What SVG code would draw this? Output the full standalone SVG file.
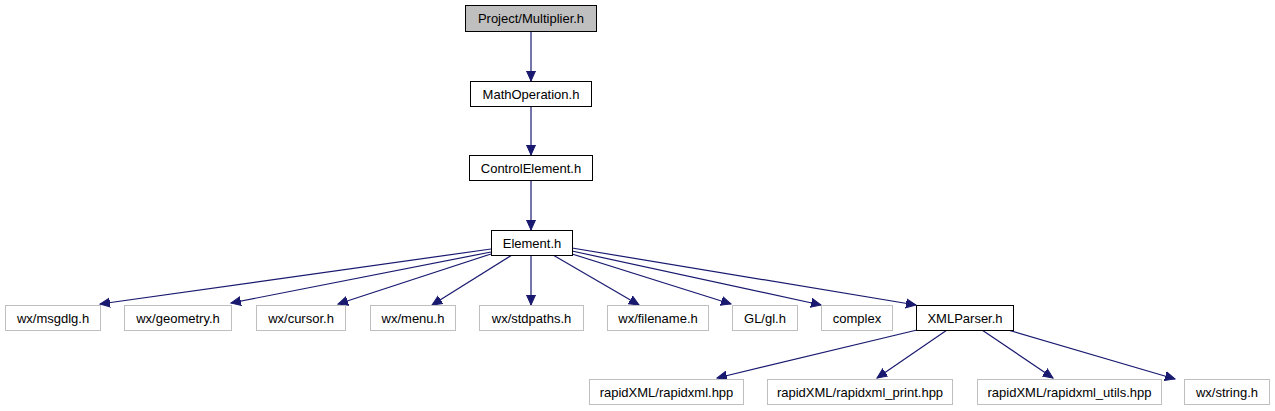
<svg xmlns="http://www.w3.org/2000/svg" width="1275" height="411" viewBox="0 0 1275 411">
<style>
.n rect{fill:#ffffff;stroke:#000000;stroke-width:1}
.u rect{fill:#ffffff;stroke:#bfbfbf;stroke-width:1}
.root rect{fill:#bfbfbf;stroke:#000000;stroke-width:1}
text{font-family:"Liberation Sans",Arial,sans-serif;font-size:13px;fill:#000000;text-anchor:middle}
.e path{fill:none;stroke:#191970;stroke-width:1.2;marker-end:url(#ah)}
</style>
<defs>
<marker id="ah" markerUnits="userSpaceOnUse" markerWidth="12" markerHeight="11" refX="10" refY="4.5" orient="auto" viewBox="0 0 12 9">
<path d="M0,0 L10,4.5 L0,9 Z" fill="#191970" stroke="#191970" stroke-width="1"/>
</marker>
</defs>
<rect x="0" y="0" width="1275" height="411" fill="#ffffff"/>
<g id="edges" class="e">
<path d="M531,31 L531,81"/>
<path d="M531,106 L531,155"/>
<path d="M531,180 L531,230"/>
<path d="M491,249 L100,304"/>
<path d="M491,252 L231,303"/>
<path d="M491,254 L338,304"/>
<path d="M512,255 L432,305"/>
<path d="M531,255 L531,305"/>
<path d="M553,255 L639,305"/>
<path d="M572,254 L731,304"/>
<path d="M572,251 L821,305"/>
<path d="M572,248 L916,305"/>
<path d="M917,330 L717,378"/>
<path d="M947,330 L877,378"/>
<path d="M982,330 L1053,378"/>
<path d="M1008,330 L1175,379"/>
</g>
<g id="node_root" class="root"><rect x="465.5" y="5.5" width="131" height="26"/><text x="531" y="23">Project/Multiplier.h</text></g>
<g id="node_mathop" class="n"><rect x="470.5" y="81.5" width="121" height="25"/><text x="531" y="98.5">MathOperation.h</text></g>
<g id="node_control" class="n"><rect x="469.5" y="155.5" width="123" height="25"/><text x="531" y="172.5">ControlElement.h</text></g>
<g id="node_element" class="n"><rect x="491.5" y="230.5" width="81" height="25"/><text x="532" y="247.5">Element.h</text></g>
<g id="node_msgdlg" class="u"><rect x="5.5" y="305.5" width="95" height="25"/><text x="53" y="322.5">wx/msgdlg.h</text></g>
<g id="node_geometry" class="u"><rect x="124.5" y="305.5" width="107" height="25"/><text x="178" y="322.5">wx/geometry.h</text></g>
<g id="node_cursor" class="u"><rect x="256.5" y="305.5" width="89" height="25"/><text x="301" y="322.5">wx/cursor.h</text></g>
<g id="node_menu" class="u"><rect x="370.5" y="305.5" width="85" height="25"/><text x="413" y="322.5">wx/menu.h</text></g>
<g id="node_stdpaths" class="u"><rect x="479.5" y="305.5" width="104" height="25"/><text x="531.5" y="322.5">wx/stdpaths.h</text></g>
<g id="node_filename" class="u"><rect x="607.5" y="305.5" width="101" height="25"/><text x="658" y="322.5">wx/filename.h</text></g>
<g id="node_gl" class="u"><rect x="732.5" y="305.5" width="65" height="25"/><text x="765" y="322.5">GL/gl.h</text></g>
<g id="node_complex" class="u"><rect x="821.5" y="305.5" width="71" height="25"/><text x="857" y="322.5">complex</text></g>
<g id="node_xmlparser" class="n"><rect x="916.5" y="305.5" width="97" height="25"/><text x="965" y="322.5">XMLParser.h</text></g>
<g id="node_rapidxml" class="u"><rect x="589.5" y="379.5" width="154" height="25"/><text x="666.5" y="396.5">rapidXML/rapidxml.hpp</text></g>
<g id="node_rapidxml_print" class="u"><rect x="767.5" y="379.5" width="185" height="25"/><text x="860" y="396.5">rapidXML/rapidxml_print.hpp</text></g>
<g id="node_rapidxml_utils" class="u"><rect x="977.5" y="379.5" width="184" height="25"/><text x="1069.5" y="396.5">rapidXML/rapidxml_utils.hpp</text></g>
<g id="node_string" class="u"><rect x="1184.5" y="379.5" width="85" height="25"/><text x="1227" y="396.5">wx/string.h</text></g>
</svg>
